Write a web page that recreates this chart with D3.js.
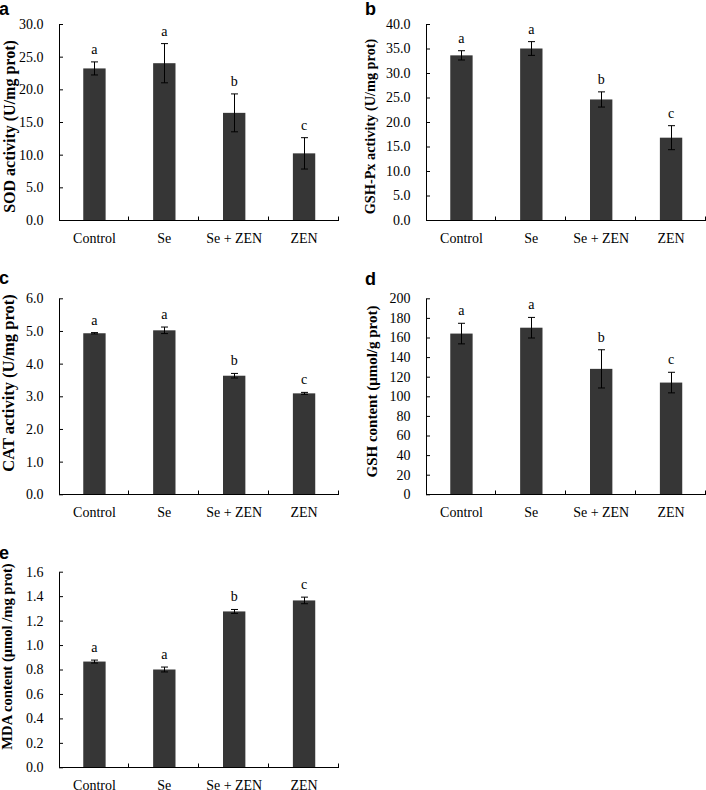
<!DOCTYPE html>
<html>
<head>
<meta charset="utf-8">
<script src="https://cdn.jsdelivr.net/npm/d3@7"></script>
<style>
  body { margin: 0; background: #fff; }
  svg { display: block; }
  .axis text, .cat-label, .sig { font-family: "Liberation Serif", "Times New Roman", serif; font-size: 14px; fill: #000; }
  .axis path, .axis line { stroke: #000; }
  .y-title { font-family: "Liberation Serif", "Times New Roman", serif; font-weight: bold; fill: #000; }
  .panel-letter { font-family: "Liberation Sans", Arial, sans-serif; font-size: 18px; font-weight: bold; fill: #000; }
</style>
</head>
<body>
<svg id="figure" width="706" height="790"></svg>
<script>
// groups on the x axis (same for every panel)
const groups = ['Control', 'Se', 'Se + ZEN', 'ZEN'];

// a: SOD activity (U/mg prot)
const sodMean = [23.2, 24.0, 16.4, 10.2];
const sodErr = [1.0, 3.0, 2.9, 2.4];
const sodSig = ['a', 'a', 'b', 'c'];

// b: GSH-Px activity (U/mg prot)
const gshpxMean = [33.6, 35.0, 24.6, 16.8];
const gshpxErr = [0.95, 1.4, 1.55, 2.45];
const gshpxSig = ['a', 'a', 'b', 'c'];

// c: CAT activity (U/mg prot)
const catMean = [4.93, 5.02, 3.63, 3.09];
const catErr = [0.02, 0.10, 0.07, 0.03];
const catSig = ['a', 'a', 'b', 'c'];

// d: GSH content (umol/g prot)
const gshMean = [164, 170, 128, 114];
const gshErr = [10.5, 10.5, 19.5, 10.5];
const gshSig = ['a', 'a', 'b', 'c'];

// e: MDA content (umol/mg prot)
const mdaMean = [0.865, 0.80, 1.275, 1.365];
const mdaErr = [0.012, 0.02, 0.016, 0.027];
const mdaSig = ['a', 'a', 'b', 'c'];

// y axis ticks: [max, step]
const sodTicks = [30, 5];
const gshpxTicks = [40, 5];
const catTicks = [6, 1];
const gshTicks = [200, 20];
const mdaTicks = [1.6, 0.2];

/** One bar chart panel of the figure. */
class BarPanel {
    /**
     * @param svg the selection to draw into
     * @param opts data + placement for this panel
     */
    constructor(svg, opts) {
        this.svg = svg;
        this.opts = opts;
        this.x = d3.scaleBand().domain(groups).range([opts.left + 0.5, opts.left + 0.5 + 279.5]);
        this.y = d3.scaleLinear().domain([0, opts.ticks[0]]).range([opts.bottom, opts.top]);
    }

    /** Draws axes, bars, error bars, letters and titles. */
    draw() {
        let o = this.opts, x = this.x, y = this.y;
        let g = this.svg.append('g');
        let bw = x.bandwidth() * 0.32;
        let rows = groups.map((k, i) => ({ k: k, m: o.mean[i], e: o.err[i], s: o.sig[i] }));

        g.selectAll('rect.bar')
            .data(rows)
            .enter()
            .append('rect')
            .attr('class', 'bar')
            .attr('x', d => x(d.k) + x.bandwidth() / 2 - bw / 2)
            .attr('width', bw)
            .attr('y', d => y(d.m))
            .attr('height', d => y(0) - y(d.m))
            .attr('fill', '#363636');

        // error bars
        let eb = g.selectAll('g.err').data(rows).enter().append('g').attr('class', 'err')
            .attr('stroke', '#000').attr('stroke-width', 1);
        let cx = d => Math.round(x(d.k) + x.bandwidth() / 2) + 0.5;
        eb.append('line')
            .attr('x1', cx).attr('x2', cx)
            .attr('y1', d => y(d.m - d.e)).attr('y2', d => y(d.m + d.e));
        eb.append('line')
            .attr('x1', d => cx(d) - 3.5).attr('x2', d => cx(d) + 3.5)
            .attr('y1', d => y(d.m + d.e)).attr('y2', d => y(d.m + d.e));
        eb.append('line')
            .attr('x1', d => cx(d) - 3.5).attr('x2', d => cx(d) + 3.5)
            .attr('y1', d => y(d.m - d.e)).attr('y2', d => y(d.m - d.e));

        // significance letters
        g.selectAll('text.sig')
            .data(rows)
            .enter()
            .append('text')
            .attr('class', 'sig')
            .attr('fill', '#000')
            .attr('text-anchor', 'middle')
            .attr('x', d => x(d.k) + x.bandwidth() / 2)
            .attr('y', d => y(d.m + d.e) - 8)
            .text(d => d.s);

        // y axis, ticks pointing inward
        let tickVals = d3.range(0, o.ticks[0] + o.ticks[1] / 2, o.ticks[1]);
        g.append('g')
            .attr('class', 'axis')
            .attr('transform', 'translate(' + o.left + ',0)')
            .call(d3.axisLeft(y).tickValues(tickVals).tickFormat(d3.format(o.fmt))
                .tickSizeInner(-4).tickSizeOuter(0).tickPadding(15.5));

        // x axis with ticks between groups
        let xb = Math.round(y(0)) + 0.5;
        let xa = g.append('g').attr('class', 'axis');
        xa.append('line')
            .attr('x1', o.left + 0.5).attr('x2', x.range()[1])
            .attr('y1', xb).attr('y2', xb);
        xa.selectAll('line.tk')
            .data(groups)
            .enter()
            .append('line')
            .attr('class', 'tk')
            .attr('x1', d => Math.round(x(d) + x.bandwidth()) - 0.5)
            .attr('x2', d => Math.round(x(d) + x.bandwidth()) - 0.5)
            .attr('y1', xb).attr('y2', xb - 4);
        g.selectAll('text.cat-label')
            .data(groups)
            .enter()
            .append('text')
            .attr('class', 'cat-label')
            .attr('text-anchor', 'middle')
            .attr('x', d => x(d) + x.bandwidth() / 2)
            .attr('y', xb + 22.5)
            .text(d => d);

        // axis title and panel letter
        g.append('text')
            .attr('class', 'y-title')
            .attr('text-anchor', 'middle')
            .style('font-size', o.titleSize + 'px')
            .attr('transform', 'translate(' + o.titleX + ',' + o.titleY + ') rotate(-90)')
            .text(o.title);
        g.append('text')
            .attr('class', 'panel-letter')
            .attr('x', o.letterX)
            .attr('y', o.letterY)
            .text(o.letter);
    }
}

let svg = d3.select('#figure');
svg.append('rect').attr('width', 706).attr('height', 790).attr('fill', '#fff');

let panels = [
    { letter: 'a', title: 'SOD activity (U/mg prot)', mean: sodMean, err: sodErr, sig: sodSig, ticks: sodTicks, fmt: '.1f',
      left: 59, top: 24, bottom: 220, titleX: 15, titleY: 126.5, titleSize: 16, letterX: -1, letterY: 14.5 },
    { letter: 'b', title: 'GSH-Px activity (U/mg prot)', mean: gshpxMean, err: gshpxErr, sig: gshpxSig, ticks: gshpxTicks, fmt: '.1f',
      left: 426, top: 24, bottom: 220, titleX: 374.5, titleY: 126.5, titleSize: 14.3, letterX: 365, letterY: 14.5 },
    { letter: 'c', title: 'CAT activity (U/mg prot)', mean: catMean, err: catErr, sig: catSig, ticks: catTicks, fmt: '.1f',
      left: 59, top: 298.3, bottom: 494.3, titleX: 14, titleY: 383, titleSize: 16.5, letterX: -1, letterY: 284 },
    { letter: 'd', title: 'GSH content (\u03bcmol/g prot)', mean: gshMean, err: gshErr, sig: gshSig, ticks: gshTicks, fmt: 'd',
      left: 426, top: 298.3, bottom: 494.3, titleX: 376.5, titleY: 391.5, titleSize: 15, letterX: 365, letterY: 285 },
    { letter: 'e', title: 'MDA content (\u03bcmol /mg prot)', mean: mdaMean, err: mdaErr, sig: mdaSig, ticks: mdaTicks, fmt: '.1f',
      left: 59, top: 571.7, bottom: 767.3, titleX: 12, titleY: 656.5, titleSize: 14.6, letterX: -1, letterY: 559 }
];

panels.forEach(p => new BarPanel(svg, p).draw());
</script>
</body>
</html>
